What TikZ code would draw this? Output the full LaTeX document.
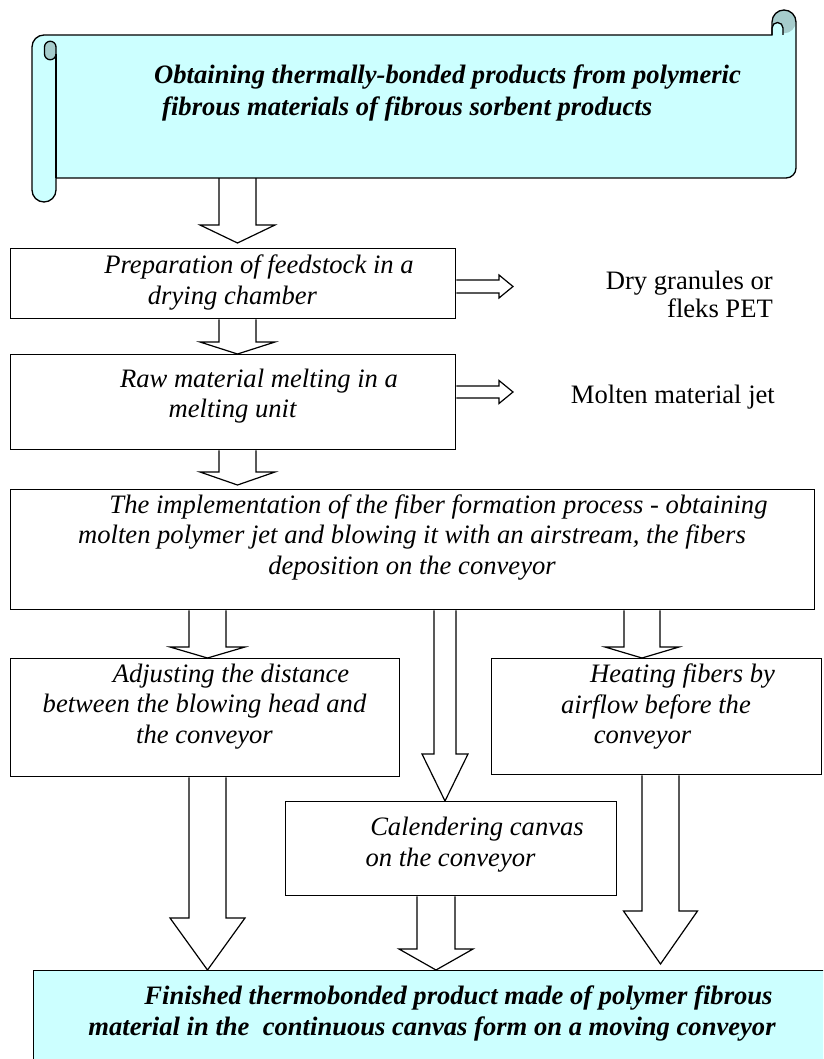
\documentclass[tikz,border=0pt]{standalone}
\usepackage{fontspec}
\setmainfont{Liberation Serif}
\usetikzlibrary{calc,backgrounds}
\definecolor{scrollfill}{RGB}{204,255,255}
\definecolor{scrolldark}{RGB}{166,204,204}
\tikzset{
  procbox/.style={draw=black, line width=1.4pt, fill=white, rectangle, inner sep=0pt, anchor=north west},
  finalbox/.style={procbox, fill=scrollfill},
  barrow/.style={draw=black, line width=1.2pt, fill=white, line join=miter},
  scrollline/.style={draw=black, line width=1.3pt},
  boxtext/.style={inner sep=0pt, align=center, font=\fontsize{26.6}{30.5}\selectfont\itshape},
  boldtext/.style={inner sep=0pt, font=\fontsize{26.6}{31}\selectfont\bfseries\itshape},
  sidetext/.style={inner sep=0pt, align=right, font=\fontsize{26.6}{28}\selectfont},
}
% vertical block arrow: #1 source, #2 tip, #3 x centre, #4 half shaft, #5 half head, #6 head length
\newcommand{\vblockarrow}[6]{%
  \draw[barrow] let \p1=(#1), \p2=(#2) in
    (#3-#4,\y1) -- (#3-#4,\y2+#6) -- (#3-#5,\y2+#6) -- (#3,\y2)
    -- (#3+#5,\y2+#6) -- (#3+#4,\y2+#6) -- (#3+#4,\y1);}
% horizontal block arrow: #1 source, #2 tip, #3 y centre, #4 half shaft, #5 half head, #6 head length
\newcommand{\hblockarrow}[6]{%
  \draw[barrow] let \p1=(#1), \p2=(#2) in
    (\x1,#3-#4) -- (\x2-#6,#3-#4) -- (\x2-#6,#3-#5) -- (\x2,#3)
    -- (\x2-#6,#3+#5) -- (\x2-#6,#3+#4) -- (\x1,#3+#4);}
\begin{document}
\begin{tikzpicture}[x=1pt,y=-1pt]
\useasboundingbox (0,0) rectangle (823,1059);

% ---------- scroll banner ----------
\fill[scrollfill] (32,47) arc[start angle=180, end angle=270, radius=12]
  -- (772,35) -- (772,22) arc[start angle=180, end angle=360, radius=12]
  -- (796,168) arc[start angle=0, end angle=90, radius=10]
  -- (56,178) -- (56,190) arc[start angle=0, end angle=180, radius=12] -- cycle;
\fill[scrolldark] (784,21.5) circle[radius=11.8];
\draw[scrollline, fill=scrollfill] (772,35) -- (772,28) arc[start angle=180, end angle=360, radius=5.5] -- (783,35);
\draw[scrollline, fill=scrolldark] (44.5,47) arc[start angle=180, end angle=360, radius=5.75]
  -- (56,54) arc[start angle=0, end angle=180, radius=5.75] -- cycle;
\draw[scrollline] (56,54) -- (56,178);
\draw[scrollline] (32,47) arc[start angle=180, end angle=270, radius=12]
  -- (772,35) -- (772,22) arc[start angle=180, end angle=360, radius=12]
  -- (796,168) arc[start angle=0, end angle=90, radius=10]
  -- (56,178) -- (56,190) arc[start angle=0, end angle=180, radius=12] -- cycle;
\node[boldtext, align=left, font=\fontsize{26.6}{32}\selectfont\bfseries\itshape, anchor=west] (title) at (154,93)
  {Obtaining thermally-bonded products from polymeric\\\rule{8pt}{0pt}fibrous materials of fibrous sorbent products};
\coordinate (scrollBot) at (237.5,178);

% ---------- boxes ----------
\node[procbox, minimum width=445pt, minimum height=70pt] (b1) at (10,248) {};
\node[procbox, minimum width=445pt, minimum height=95pt] (b2) at (10,354) {};
\node[procbox, minimum width=804pt, minimum height=120pt] (b3) at (10,489) {};
\node[procbox, minimum width=389pt, minimum height=118pt] (adj) at (10,658) {};
\node[procbox, minimum width=330pt, minimum height=116pt] (heat) at (491,658) {};
\node[procbox, minimum width=331pt, minimum height=94pt] (cal) at (285,801) {};
\begin{scope}
\clip (0,0) rectangle (823,1059);
\node[finalbox, minimum width=798pt, minimum height=110pt] (fin) at (33,970) {};
\end{scope}

% ---------- texts ----------
\node[boxtext] (t1) at (232.5,282.5) {\rule{53pt}{0pt}Preparation of feedstock in a\\drying chamber};
\node[boxtext] (t2) at (232.5,396) {\rule{53pt}{0pt}Raw material melting in a\\melting unit};
\node[boxtext] (t3) at (412,537.5) {\rule{53pt}{0pt}The implementation of the fiber formation process - obtaining\\molten polymer jet and blowing it with an airstream, the fibers\\deposition on the conveyor};
\node[boxtext] (t4) at (204.5,706.5) {\rule{53pt}{0pt}Adjusting the distance\\between the blowing head and\\the conveyor};
\node[boxtext] (t5) at (656,706.5) {\rule{53pt}{0pt}Heating fibers by\\airflow before the\\conveyor\rule{27pt}{0pt}};
\node[boxtext] (t6) at (450.5,844.5) {\rule{53pt}{0pt}Calendering canvas\\on the conveyor};
\node[boldtext, align=center] (t7) at (432,1013) {\rule{53pt}{0pt}Finished thermobonded product made of polymer fibrous\\material in the\ \ continuous canvas form on a moving conveyor};
\node[sidetext, anchor=east] (dry) at (773,294) {Dry granules or\\fleks PET};
\node[sidetext, anchor=east] (molten) at (775,397) {Molten material jet};
\coordinate (dryTip) at (513,286.5);
\coordinate (molTip) at (513,392);

% ---------- block arrows ----------
\begin{pgfonlayer}{background}
\vblockarrow{scrollBot}{$(b1.north)+(0,-5)$}{237.5}{18.5}{37.5}{18}
\vblockarrow{b1.south}{b2.north}{237.5}{18.5}{37.5}{12}
\vblockarrow{b2.south}{$(b3.north)+(0,-4)$}{237.5}{18.5}{37.5}{13}
\vblockarrow{b3.south}{adj.north}{207.5}{18.5}{37.5}{11}
\vblockarrow{adj.south}{fin.north}{207.5}{18.5}{37.5}{52}
\vblockarrow{b3.south}{cal.north}{445}{11}{23}{47}
\vblockarrow{cal.south}{fin.north}{436}{19}{37}{21}
\vblockarrow{b3.south}{heat.north}{642}{18}{37}{11}
\vblockarrow{heat.south}{$(fin.north)+(0,-6)$}{660.5}{18.5}{37}{53}
\hblockarrow{b1.east}{dryTip}{286.5}{6.5}{11.5}{14}
\hblockarrow{b2.east}{molTip}{392}{6}{11.5}{14}
\end{pgfonlayer}
\end{tikzpicture}
\end{document}
